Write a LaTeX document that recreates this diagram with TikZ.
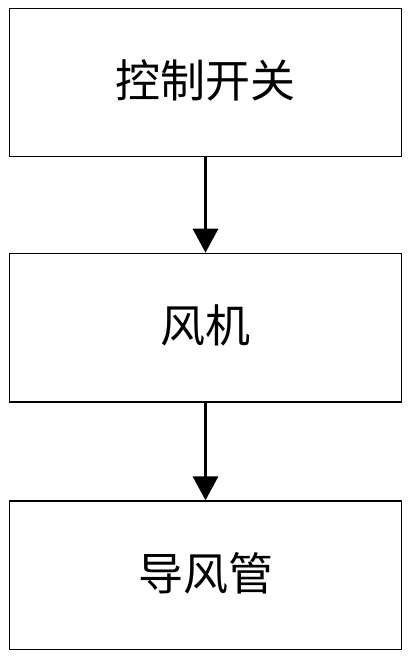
\documentclass[tikz,border=0pt]{standalone}
\usepackage{fontspec}
\newfontfamily\cjk{Noto Sans CJK SC}
\usetikzlibrary{arrows.meta}
\newcommand{\boxtext}[1]{\raisebox{8pt}{#1}}
\begin{document}
\begin{tikzpicture}[x=1pt,y=1pt,
    stagebox/.style={draw,line width=1.3pt,minimum width=392pt,minimum height=148.5pt,inner sep=0pt,
        font=\cjk\fontsize{45}{50}\selectfont},
    flow/.style={line width=3.5pt,-{Triangle[width=25pt,length=24pt]}}]
    \useasboundingbox (0,0) rectangle (411,-662);
    \node [stagebox] (S) at (205.5,-82.5) {\boxtext{控制开关}};
    \node [stagebox] (F) at (205.5,-327.6) {\boxtext{风机}};
    \node [stagebox] (P) at (205.5,-575.2) {\boxtext{导风管}};
    \draw [flow] (S) -- (F);
    \draw [flow] (F) -- (P);
    \end{tikzpicture}
\end{document}
